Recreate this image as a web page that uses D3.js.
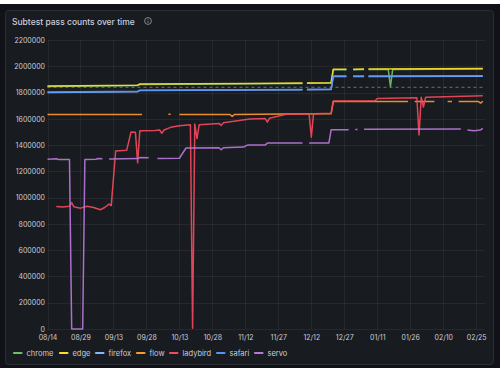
<!DOCTYPE html>
<html>
<head>
<meta charset="utf-8">
<script src="https://cdn.jsdelivr.net/npm/d3@7"></script>
<style>
  html, body { margin: 0; padding: 0; background: #fff; }
  svg { display: block; font-family: Inter, "Noto Sans", sans-serif; }
</style>
</head>
<body>
<svg id="chart" width="500" height="375"></svg>
<script>
// ---------- Data ----------
const SERIES_NAMES = ["chrome", "edge", "firefox", "flow", "ladybird", "safari", "servo"];
const SERIES_COLORS = ["#73BF69", "#FADE2A", "#8AB8FF", "#FF9830", "#F2495C", "#5794F2", "#B877D9"];

const X_TICKS = ["2024-08-14", "2024-08-29", "2024-09-13", "2024-09-28", "2024-10-13", "2024-10-28",
  "2024-11-12", "2024-11-27", "2024-12-12", "2024-12-27", "2025-01-11", "2025-01-26",
  "2025-02-10", "2025-02-25"];
const Y_TICKS = [0, 200000, 400000, 600000, 800000, 1000000, 1200000, 1400000,
  1600000, 1800000, 2000000, 2200000];
const THRESHOLD = 1840000;

// null = no data (gap in the line)
const chrome = [
  ["2024-08-14", 1846000], ["2024-09-24", 1853000], ["2024-09-25", 1862000],
  ["2024-11-14", 1866000], ["2024-12-08", 1869000], ["2024-12-09", null],
  ["2024-12-10", 1870000], ["2024-12-21", 1872000], ["2024-12-22", 1974000],
  ["2024-12-28", 1974000], ["2024-12-29", null], ["2024-12-31", 1974000],
  ["2025-01-05", 1975000], ["2025-01-06", null], ["2025-01-07", 1975000],
  ["2025-01-16", 1975000], ["2025-01-17", 1846000], ["2025-01-18", 1975000],
  ["2025-02-28", 1979000]
];
const edge = [
  ["2024-08-14", 1849000], ["2024-09-24", 1856000], ["2024-09-25", 1865000],
  ["2024-11-14", 1869000], ["2024-12-08", 1872000], ["2024-12-09", null],
  ["2024-12-10", 1873000], ["2024-12-21", 1875000], ["2024-12-22", 1978000],
  ["2024-12-28", 1978000], ["2024-12-29", null], ["2024-12-31", 1978000],
  ["2025-01-05", 1979000], ["2025-01-06", null], ["2025-01-07", 1979000],
  ["2025-02-28", 1983000]
];
const firefox = [
  ["2024-08-14", 1801000], ["2024-09-24", 1807000], ["2024-09-25", 1815000],
  ["2024-12-08", 1821000], ["2024-12-09", null], ["2024-12-10", 1822000],
  ["2024-12-21", 1824000], ["2024-12-22", 1923000], ["2024-12-28", 1923000],
  ["2024-12-29", null], ["2024-12-31", 1923000], ["2025-01-05", 1923000],
  ["2025-01-06", null], ["2025-01-07", 1923000], ["2025-02-28", 1925000]
];
const flow = [
  ["2024-08-14", 1632000], ["2024-09-26", 1632000], ["2024-09-27", null],
  ["2024-10-08", 1634000], ["2024-10-09", 1634000], ["2024-10-10", null],
  ["2024-10-13", 1633000], ["2024-11-05", 1633000], ["2024-11-06", 1618000],
  ["2024-11-07", 1633000], ["2024-12-01", 1636000], ["2024-12-21", 1638000],
  ["2024-12-22", 1731000], ["2025-01-25", 1731000], ["2025-01-26", null],
  ["2025-01-28", 1731000], ["2025-02-06", 1731000], ["2025-02-07", null],
  ["2025-02-12", 1731000], ["2025-02-14", 1731000], ["2025-02-15", null],
  ["2025-02-17", 1731000], ["2025-02-26", 1731000], ["2025-02-27", 1720000],
  ["2025-02-28", 1734000]
];
const ladybird = [
  ["2024-08-18", 932000], ["2024-08-21", 928000], ["2024-08-24", 935000],
  ["2024-08-25", 962000], ["2024-08-26", 930000], ["2024-08-29", 920000],
  ["2024-09-01", 935000], ["2024-09-04", 925000], ["2024-09-07", 908000],
  ["2024-09-09", 925000], ["2024-09-11", 950000], ["2024-09-12", 940000],
  ["2024-09-14", 1355000], ["2024-09-19", 1360000], ["2024-09-21", 1500000],
  ["2024-09-23", 1497000], ["2024-09-24", 1265000], ["2024-09-25", 1510000],
  ["2024-10-02", 1512000], ["2024-10-04", 1515000], ["2024-10-05", 1490000],
  ["2024-10-06", 1515000], ["2024-10-09", 1535000], ["2024-10-13", 1548000],
  ["2024-10-18", 1555000], ["2024-10-19", 5000], ["2024-10-20", 1560000],
  ["2024-10-21", 1450000], ["2024-10-22", 1555000], ["2024-10-31", 1565000],
  ["2024-11-01", 1550000], ["2024-11-02", 1570000], ["2024-11-14", 1598000],
  ["2024-11-21", 1603000], ["2024-11-22", 1575000], ["2024-11-23", 1605000],
  ["2024-12-01", 1637000], ["2024-12-11", 1637000], ["2024-12-12", 1460000],
  ["2024-12-13", 1638000], ["2024-12-21", 1642000], ["2024-12-22", 1736000],
  ["2025-01-10", 1738000], ["2025-01-11", 1755000], ["2025-01-29", 1760000],
  ["2025-01-30", 1477000], ["2025-01-31", 1765000], ["2025-02-01", 1690000],
  ["2025-02-02", 1765000], ["2025-02-28", 1775000]
];
const safari = [
  ["2024-08-14", 1804000], ["2024-09-24", 1810000], ["2024-09-25", 1818000],
  ["2024-12-08", 1824000], ["2024-12-09", null], ["2024-12-10", 1825000],
  ["2024-12-21", 1827000], ["2024-12-22", 1926000], ["2024-12-28", 1926000],
  ["2024-12-29", null], ["2024-12-31", 1926000], ["2025-01-05", 1926000],
  ["2025-01-06", null], ["2025-01-07", 1926000], ["2025-02-28", 1928000]
];
const servo = [
  ["2024-08-14", 1293000], ["2024-08-18", 1296000], ["2024-08-19", 1290000],
  ["2024-08-24", 1290000], ["2024-08-25", 0], ["2024-08-30", 0],
  ["2024-08-31", 1290000], ["2024-09-05", 1292000], ["2024-09-06", 1298000],
  ["2024-09-08", 1296000], ["2024-09-09", null], ["2024-09-11", 1295000],
  ["2024-09-24", 1297000], ["2024-09-25", 1305000], ["2024-09-29", 1303000],
  ["2024-09-30", null], ["2024-10-03", 1298000], ["2024-10-13", 1300000],
  ["2024-10-16", 1378000], ["2024-10-31", 1380000], ["2024-11-01", 1365000],
  ["2024-11-02", 1380000], ["2024-11-11", 1385000], ["2024-11-13", 1400000],
  ["2024-11-21", 1400000], ["2024-11-22", 1415000], ["2024-12-08", 1415000],
  ["2024-12-09", null], ["2024-12-11", 1415000], ["2024-12-20", 1416000],
  ["2024-12-21", 1516000], ["2024-12-29", 1516000], ["2024-12-30", null],
  ["2025-01-01", 1518000], ["2025-01-02", 1518000], ["2025-01-03", null],
  ["2025-01-05", 1520000], ["2025-02-18", 1522000], ["2025-02-19", null],
  ["2025-02-21", 1515000], ["2025-02-24", 1510000], ["2025-02-27", 1515000],
  ["2025-02-28", 1527000]
];
const SERIES_DATA = [chrome, edge, firefox, flow, ladybird, safari, servo];

// ---------- Draw ----------
const parse = d3.timeParse("%Y-%m-%d");
const fmtTick = d3.timeFormat("%m/%d");
const fmtY = d3.format("d");

const svg = d3.select("#chart");

// dashboard background + panel
svg.append("rect").attr("x", 0).attr("y", 4).attr("width", 500).attr("height", 364)
  .attr("fill", "#111217");
svg.append("rect").attr("x", 5.5).attr("y", 10.5).attr("width", 488).attr("height", 354)
  .attr("rx", 3).attr("fill", "#181b1f").attr("stroke", "#2b2e34");

// title + info icon
svg.append("text").attr("x", 12).attr("y", 24.5)
  .attr("fill", "#ccccdc").style("font-size", "8.5px").style("font-weight", 500)
  .text("Subtest pass counts over time");
const info = svg.append("g").attr("transform", "translate(148,21)");
info.append("circle").attr("r", 3.4).attr("fill", "none").attr("stroke", "#9fa1a8").attr("stroke-width", 0.8);
info.append("line").attr("x1", 0).attr("x2", 0).attr("y1", -0.4).attr("y2", 1.9)
  .attr("stroke", "#9fa1a8").attr("stroke-width", 0.8);
info.append("circle").attr("cy", -1.6).attr("r", 0.45).attr("fill", "#9fa1a8");

const x = d3.scaleTime().domain([parse("2024-08-14"), parse("2025-03-01")]).range([47.5, 485]);
const y = d3.scaleLinear().domain([0, 2200000]).range([329, 40]);

// grid
const grid = svg.append("g").attr("stroke", "rgba(204,204,220,0.08)").attr("stroke-width", 1);
grid.selectAll("line.gx").data(X_TICKS).join("line")
  .attr("x1", d => Math.round(x(parse(d))) + 0.5).attr("x2", d => Math.round(x(parse(d))) + 0.5)
  .attr("y1", 40).attr("y2", 329);
grid.selectAll("line.gy").data(Y_TICKS).join("line")
  .attr("x1", 47.5).attr("x2", 485)
  .attr("y1", d => Math.round(y(d)) + 0.5).attr("y2", d => Math.round(y(d)) + 0.5);

// axes (text only, Grafana style)
const yAxis = svg.append("g").attr("transform", "translate(45,0)")
  .call(d3.axisLeft(y).tickValues(Y_TICKS).tickFormat(fmtY).tickSize(0).tickPadding(0));
yAxis.select(".domain").remove();
yAxis.selectAll("text").attr("fill", "#ccccdc").style("font-size", "7px")
  .style("font-family", "Inter, sans-serif");

const xAxis = svg.append("g").attr("transform", "translate(0,335.5)")
  .call(d3.axisBottom(x).tickValues(X_TICKS.map(parse)).tickFormat(fmtTick).tickSize(0).tickPadding(0));
xAxis.select(".domain").remove();
xAxis.selectAll("text").attr("fill", "#ccccdc").style("font-size", "7px")
  .style("font-family", "Inter, sans-serif");

// threshold dashed line
svg.append("line")
  .attr("x1", 47.5).attr("x2", 485)
  .attr("y1", y(THRESHOLD)).attr("y2", y(THRESHOLD))
  .attr("stroke", "#6e7077").attr("stroke-width", 1).attr("stroke-dasharray", "3,3");

// series
const line = d3.line()
  .defined(d => d[1] !== null)
  .x(d => x(parse(d[0])))
  .y(d => y(d[1]));

svg.append("g").selectAll("path.series")
  .data(SERIES_DATA)
  .join("path")
  .attr("class", "series")
  .attr("d", d => line(d))
  .attr("fill", "none")
  .attr("stroke", (d, i) => SERIES_COLORS[i])
  .attr("stroke-width", 1.5)
  .attr("stroke-opacity", 0.92)
  .attr("stroke-linejoin", "round");

// legend
const LEGEND_X = [14, 60, 96, 137, 170, 217, 255];
const legend = svg.append("g").attr("transform", "translate(0,353)");
const items = legend.selectAll("g").data(SERIES_NAMES).join("g")
  .attr("transform", (d, i) => `translate(${LEGEND_X[i]},0)`);
items.append("line").attr("x1", 0).attr("x2", 7.5).attr("y1", 0).attr("y2", 0)
  .attr("stroke", (d, i) => SERIES_COLORS[i]).attr("stroke-width", 2.2).attr("stroke-linecap", "round");
items.append("text").attr("x", 12.5).attr("y", 2.7)
  .attr("fill", "#ccccdc").style("font-size", "7.5px").text(d => d);
</script>
</body>
</html>
